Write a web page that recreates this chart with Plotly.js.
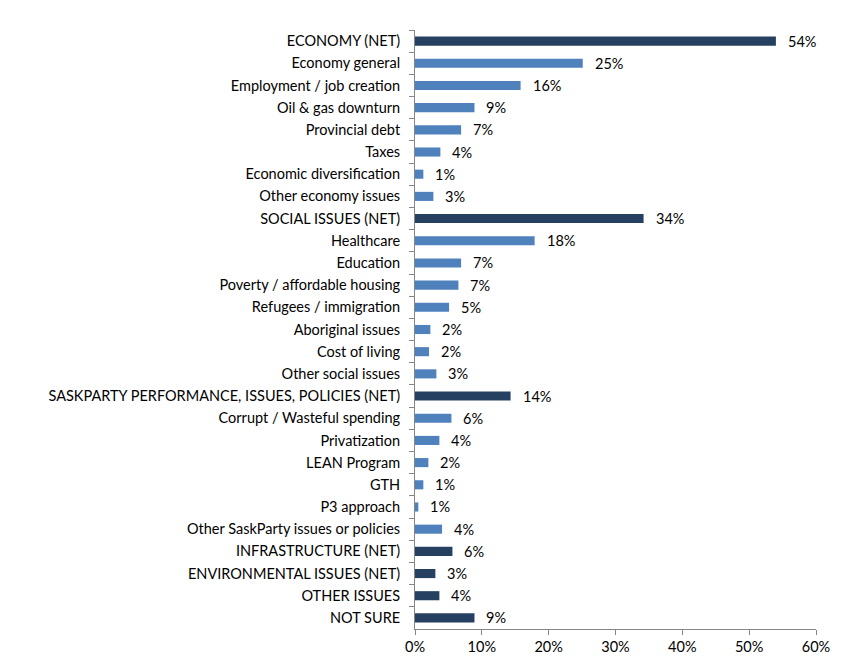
<!DOCTYPE html>
<html>
<head>
<meta charset="utf-8">
<script src="https://cdn.plot.ly/plotly-3.0.1.min.js"></script>
<style>html,body{margin:0;padding:0;background:#fff;}#chart{width:854px;height:672px;}</style>
</head>
<body>
<div id="chart"></div>
<script>
const categories = [
  "ECONOMY (NET)", "Economy general", "Employment / job creation", "Oil & gas downturn",
  "Provincial debt", "Taxes", "Economic diversification", "Other economy issues",
  "SOCIAL ISSUES (NET)", "Healthcare", "Education", "Poverty / affordable housing",
  "Refugees / immigration", "Aboriginal issues", "Cost of living", "Other social issues",
  "SASKPARTY PERFORMANCE, ISSUES, POLICIES (NET)", "Corrupt / Wasteful spending",
  "Privatization", "LEAN Program", "GTH", "P3 approach", "Other SaskParty issues or policies",
  "INFRASTRUCTURE (NET)", "ENVIRONMENTAL ISSUES (NET)", "OTHER ISSUES", "NOT SURE"
];
const values = [
  54.0, 25.1, 15.8, 8.9, 6.9, 3.8, 1.25, 2.75,
  34.2, 17.9, 6.9, 6.5, 5.1, 2.3, 2.1, 3.2,
  14.3, 5.45, 3.65, 2.0, 1.25, 0.5, 4.05,
  5.6, 3.05, 3.65, 8.9
];
const valueLabels = [
  "54%", "25%", "16%", "9%", "7%", "4%", "1%", "3%",
  "34%", "18%", "7%", "7%", "5%", "2%", "2%", "3%",
  "14%", "6%", "4%", "2%", "1%", "1%", "4%",
  "6%", "3%", "4%", "9%"
];
const isNet = [
  1, 0, 0, 0, 0, 0, 0, 0,
  1, 0, 0, 0, 0, 0, 0, 0,
  1, 0, 0, 0, 0, 0, 0,
  1, 1, 1, 1
];
const darkColor = "#254061";
const lightColor = "#4F81BD";
const fontFam = "Lato, 'Open Sans', sans-serif";
const fs = 14.5;

const trace = {
  type: "bar",
  orientation: "h",
  y: categories,
  x: values,
  marker: { color: isNet.map(n => n ? darkColor : lightColor) },
  hoverinfo: "skip"
};

const annotations = categories.map((c, i) => ({
  x: values[i], y: c, xref: "x", yref: "y",
  text: valueLabels[i], showarrow: false,
  xanchor: "left", yanchor: "middle", xshift: 10,
  font: { family: fontFam, size: fs, color: "#000" }
}));

const layout = {
  width: 854, height: 672,
  margin: { l: 415, r: 38, t: 30, b: 43 },
  paper_bgcolor: "#fff", plot_bgcolor: "#fff",
  bargap: 0.59,
  showlegend: false,
  font: { family: fontFam, size: fs, color: "#000" },
  xaxis: {
    range: [0, 60], dtick: 10, ticksuffix: "%",
    showgrid: false, zeroline: false,
    showline: true, linecolor: "#868686", linewidth: 1,
    ticks: "outside", ticklen: 5, tickcolor: "#868686",
    tickfont: { family: fontFam, size: fs, color: "#000" },
    fixedrange: true
  },
  yaxis: {
    type: "category", autorange: "reversed",
    showgrid: false, zeroline: false,
    showline: true, linecolor: "#868686", linewidth: 1,
    ticks: "outside", ticklen: 5, tickcolor: "#868686", tickson: "boundaries",
    tickfont: { family: fontFam, size: fs, color: "#000" },
    ticklabelstandoff: 11,
    fixedrange: true
  },
  annotations: annotations
};

Plotly.newPlot("chart", [trace], layout, { displayModeBar: false, staticPlot: true });
</script>
</body>
</html>
